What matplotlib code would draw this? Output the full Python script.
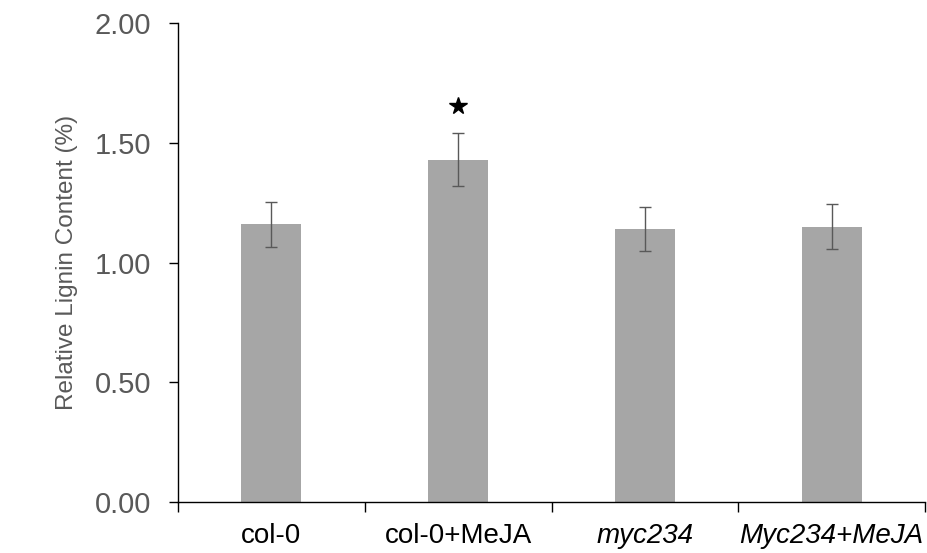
import matplotlib
matplotlib.use("Agg")
import matplotlib.pyplot as plt
import numpy as np

# values
groups = ["col-0", "col-0+MeJA", "myc234", "Myc234+MeJA"]
italic = [False, False, True, True]
means = [1.16, 1.43, 1.14, 1.15]
errs = [0.095, 0.112, 0.092, 0.094]
star_y = 1.655  # significance marker above col-0+MeJA

plt.rcParams['font.family'] = ['Liberation Sans', 'DejaVu Sans']

fig = plt.figure(figsize=(9.28, 5.53), dpi=100)
ax = fig.add_axes([0.1918, 0.0922, 0.805, 0.866])

x = np.arange(len(groups))
ax.bar(x, means, width=0.32, color='#a6a6a6', zorder=2)
ax.errorbar(x, means, yerr=errs, fmt='none', ecolor='#595959',
            elinewidth=1.0, capsize=4.5, capthick=1.0, zorder=3)
ax.plot([1], [star_y], marker='*', color='black', markersize=13, linestyle='none')

ax.set_xlim(-0.5, 3.5)
ax.set_ylim(0, 2.0)
ax.set_yticks([0, 0.5, 1.0, 1.5, 2.0])
ax.set_yticklabels(["0.00", "0.50", "1.00", "1.50", "2.00"])
ax.tick_params(axis='y', direction='out', length=6.5, width=1, labelsize=21,
               labelcolor='#595959', pad=13)

# boundary ticks between groups, labels centred on the bars
ax.set_xticks(np.arange(-0.5, 4, 1.0))
ax.set_xticklabels([])
ax.set_xticks(x, minor=True)
ax.set_xticklabels(groups, minor=True)
ax.tick_params(axis='x', which='major', direction='out', length=7, width=1)
ax.tick_params(axis='x', which='minor', length=0, labelsize=20, pad=15)
for lab, it in zip(ax.get_xticklabels(minor=True), italic):
    if it:
        lab.set_fontstyle('italic')

ax.set_ylabel("Relative Lignin Content (%)", fontsize=17.5, color='#595959', labelpad=12)

for s in ['top', 'right']:
    ax.spines[s].set_visible(False)
ax.spines['left'].set_linewidth(1)
ax.spines['bottom'].set_linewidth(1)

fig.savefig("out.png", dpi=100)
